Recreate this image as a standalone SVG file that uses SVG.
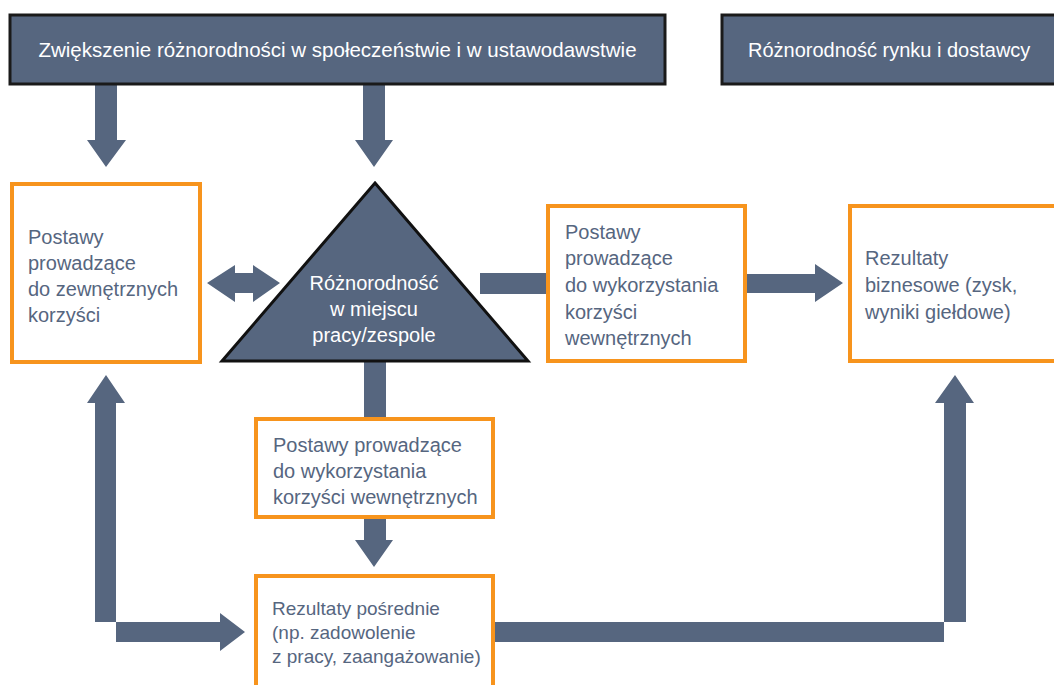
<svg xmlns="http://www.w3.org/2000/svg" width="1054" height="685" viewBox="0 0 1054 685">
<style>
.hdr{fill:#56667F;stroke:#1a1a1a;stroke-width:3}
.box{fill:#fff;stroke:#F7941D;stroke-width:4}
.tri{fill:#56667F;stroke:#111;stroke-width:3;stroke-linejoin:miter}
.ar{fill:#56667F}
.t{font-family:"Liberation Sans",Arial,sans-serif;font-size:20px;fill:#56667F}
.s{font-size:19px}
.w{font-family:"Liberation Sans",Arial,sans-serif;font-size:20px;fill:#fff}
</style>
<rect width="1054" height="685" fill="#fff"/>
<g id="connectors">
<polygon class="ar" points="95,83 117,83 117,140 126,140 106,167 87,140 95,140"/>
<polygon class="ar" points="363,83 385,83 385,140 393,140 374,167 355,140 363,140"/>
<polygon class="ar" points="207,283 235,265 235,273 253,273 253,265 280,283 253,302 253,293 235,293 235,302"/>
<rect class="ar" x="480" y="273" width="68" height="21"/>
<polygon class="ar" points="745,274 815,274 815,264 843,283 815,302 815,293 745,293"/>
<rect class="ar" x="364" y="362" width="22" height="57"/>
<polygon class="ar" points="364,517 386,517 386,540 393,540 374,567 355,540 364,540"/>
<polygon class="ar" points="95,622 95,403 87,403 106,375 125,403 116,403 116,622"/>
<polygon class="ar" points="116,622 220,622 220,613 245,632 220,651 220,642 116,642"/>
<rect class="ar" x="493" y="622" width="451" height="20"/>
<polygon class="ar" points="944,622 944,403 935,403 955,375 974,403 966,403 966,622"/>
</g>
<g id="n-top1">
<rect class="hdr" x="10" y="15" width="655" height="69"/>
<text class="w" x="337.5" y="57" text-anchor="middle" style="font-size:20.5px">Zwiększenie różnorodności w społeczeństwie i w ustawodawstwie</text>
</g>
<g id="n-top2">
<rect class="hdr" x="722" y="15" width="340" height="69"/>
<text class="w" x="748" y="57">Różnorodność rynku i dostawcy</text>
</g>
<g id="n-left">
<rect class="box" x="12" y="184" width="188" height="178"/>
<text class="t" x="28" y="244">Postawy</text>
<text class="t" x="28" y="270">prowadzące</text>
<text class="t" x="28" y="296">do zewnętrznych</text>
<text class="t" x="28" y="322">korzyści</text>
</g>
<g id="n-triangle">
<polygon class="tri" points="375,183 528,361 222,361"/>
<text class="w" x="374" y="290" text-anchor="middle">Różnorodność</text>
<text class="w" x="374" y="316" text-anchor="middle">w miejscu</text>
<text class="w" x="374" y="342" text-anchor="middle">pracy/zespole</text>
</g>
<g id="n-mid">
<rect class="box" x="548" y="206" width="197" height="155"/>
<text class="t" x="565" y="239">Postawy</text>
<text class="t" x="565" y="265">prowadzące</text>
<text class="t" x="565" y="292">do wykorzystania</text>
<text class="t" x="565" y="319">korzyści</text>
<text class="t" x="565" y="345">wewnętrznych</text>
</g>
<g id="n-right">
<rect class="box" x="850" y="206" width="210" height="155"/>
<text class="t" x="865" y="265">Rezultaty</text>
<text class="t" x="865" y="292">biznesowe (zysk,</text>
<text class="t" x="865" y="319">wyniki giełdowe)</text>
</g>
<g id="n-lower">
<rect class="box" x="256" y="419" width="237" height="98"/>
<text class="t" x="273" y="452">Postawy prowadzące</text>
<text class="t" x="273" y="478">do wykorzystania</text>
<text class="t" x="273" y="504">korzyści wewnętrznych</text>
</g>
<g id="n-bottom">
<rect class="box" x="256" y="576" width="237" height="120"/>
<text class="t s" x="272" y="615">Rezultaty pośrednie</text>
<text class="t s" x="272" y="639">(np. zadowolenie</text>
<text class="t s" x="272" y="663">z pracy, zaangażowanie)</text>
</g>
</svg>
